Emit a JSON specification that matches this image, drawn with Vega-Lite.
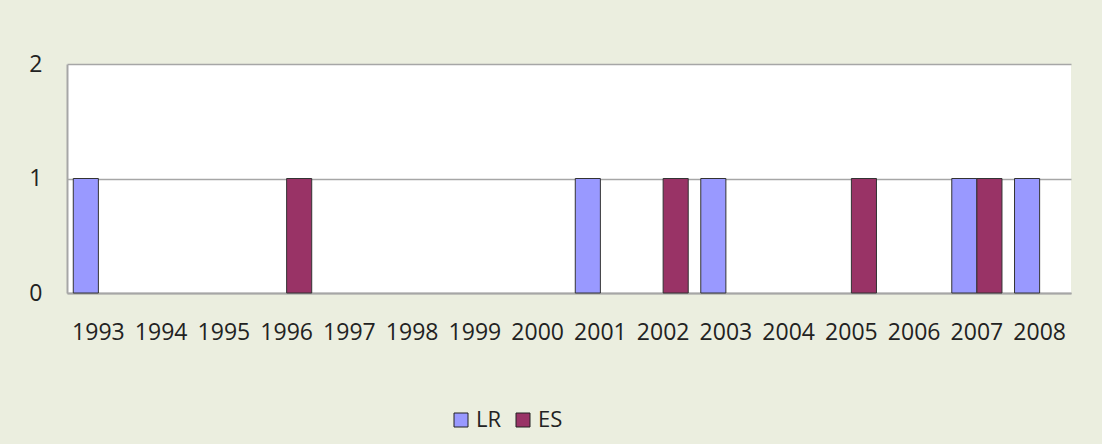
{
  "$schema": "https://vega.github.io/schema/vega-lite/v6.json",
  "width": 1004,
  "height": 229,
  "autosize": {"type": "none"},
  "padding": {"left": 67, "top": 64, "right": 31, "bottom": 151},
  "background": "#EBEEDF",
  "config": {
    "view": {"stroke": "#FFFFFF", "strokeWidth": 0, "fill": "#FFFFFF"},
    "font": "Open Sans"
  },
  "data": {
    "values": [
      {"year": "1993", "series": "LR", "value": 1},
      {"year": "1996", "series": "ES", "value": 1},
      {"year": "2001", "series": "LR", "value": 1},
      {"year": "2002", "series": "ES", "value": 1},
      {"year": "2003", "series": "LR", "value": 1},
      {"year": "2005", "series": "ES", "value": 1},
      {"year": "2007", "series": "LR", "value": 1},
      {"year": "2007", "series": "ES", "value": 1},
      {"year": "2008", "series": "LR", "value": 1}
    ]
  },
  "mark": {"type": "bar", "stroke": "#333333", "strokeWidth": 1},
  "encoding": {
    "x": {
      "field": "year",
      "type": "nominal",
      "scale": {
        "domain": ["1993","1994","1995","1996","1997","1998","1999","2000","2001","2002","2003","2004","2005","2006","2007","2008"],
        "paddingInner": 0.2,
        "paddingOuter": 0.1
      },
      "axis": {
        "title": null,
        "labelAngle": 0,
        "labelFontSize": 23,
        "labelColor": "#222222",
        "labelPadding": 28,
        "ticks": false,
        "domainColor": "#A6A6A6",
        "domainWidth": 2
      }
    },
    "xOffset": {
      "field": "series",
      "type": "nominal",
      "scale": {"domain": ["LR", "ES"], "paddingInner": 0, "paddingOuter": 0}
    },
    "y": {
      "field": "value",
      "type": "quantitative",
      "scale": {"domain": [0, 2], "nice": false, "zero": true},
      "axis": {
        "title": null,
        "tickCount": 2,
        "labelOverlap": false,
        "labelFontSize": 23,
        "labelColor": "#222222",
        "labelPadding": 25,
        "ticks": false,
        "grid": true,
        "gridColor": "#A6A6A6",
        "gridWidth": 1.5,
        "domainColor": "#A6A6A6",
        "domainWidth": 2
      }
    },
    "color": {
      "field": "series",
      "type": "nominal",
      "scale": {"domain": ["LR", "ES"], "range": ["#9999FF", "#993366"]},
      "legend": {
        "title": null,
        "orient": "none",
        "direction": "horizontal",
        "legendX": 383,
        "legendY": 345,
        "symbolType": "square",
        "symbolSize": 196,
        "symbolStrokeColor": "#222222",
        "symbolStrokeWidth": 1,
        "labelFontSize": 22,
        "labelColor": "#222222",
        "labelOffset": 4,
        "columnPadding": 10
      }
    }
  }
}
